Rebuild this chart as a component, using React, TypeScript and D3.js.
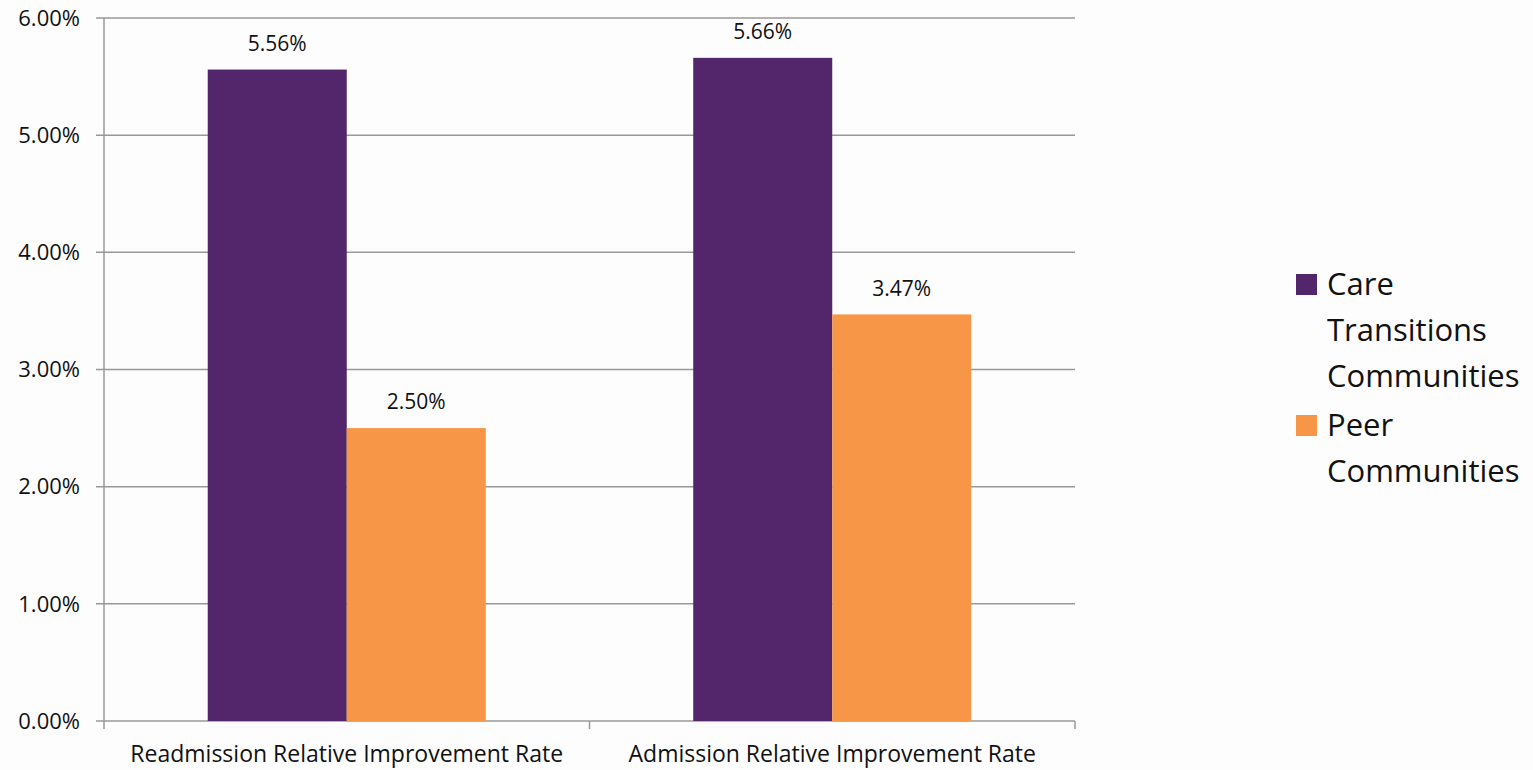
import React from "react";
import * as d3 from "d3";

const categories = ["Readmission Relative Improvement Rate", "Admission Relative Improvement Rate"];
const seriesNames = ["Care Transitions Communities", "Peer Communities"];
const careValues = [5.56, 5.66];
const peerValues = [2.5, 3.47];
const yTicks = [0, 1, 2, 3, 4, 5, 6];
const legendLines = [["Care", "Transitions", "Communities"], ["Peer", "Communities"]];
const colors = ["#53256A", "#F79646"];

const W = 1533;
const H = 770;
const FONT = "'Open Sans', 'Noto Sans', sans-serif";

export default function App() {
  const left = 104;
  const right = 1075;
  const top = 18;
  const bottom = 721;

  const x0 = d3.scaleBand<string>().domain(categories).range([left, right]).padding(0);
  const x1 = d3
    .scaleBand<string>()
    .domain(seriesNames)
    .range([0, x0.bandwidth()])
    .paddingInner(0)
    .paddingOuter(0.746);
  const y = d3.scaleLinear().domain([0, 6]).range([bottom, top]);

  const series = [careValues, peerValues];
  const grid = "#999999";

  return (
    <svg
      width={W}
      height={H}
      style={{ position: "absolute", left: 0, top: 0, background: "#fdfdfd" }}
      fontFamily={FONT}
    >
      {/* horizontal gridlines and y tick marks */}
      {yTicks.map((t) => (
        <g key={t}>
          <line x1={left - 8} x2={right} y1={y(t)} y2={y(t)} stroke={grid} strokeWidth={1.5} />
          <text x={80} y={y(t)} dy="0.35em" textAnchor="end" fontSize={22} fill="#111">
            {t.toFixed(2)}%
          </text>
        </g>
      ))}
      {/* y axis */}
      <line x1={left} x2={left} y1={top} y2={bottom} stroke={grid} strokeWidth={1.5} />
      {/* category boundary ticks */}
      {[left, ...categories.map((c) => (x0(c) as number) + x0.bandwidth())].map((xv, i) => (
        <line key={i} x1={xv} x2={xv} y1={bottom} y2={bottom + 8} stroke={grid} strokeWidth={1.5} />
      ))}
      {/* bars */}
      {categories.map((c, ci) => (
        <g key={c} transform={`translate(${x0(c)},0)`}>
          {seriesNames.map((s, si) => {
            const v = series[si][ci];
            const bx = x1(s) as number;
            return (
              <g key={s}>
                <rect x={bx} y={y(v)} width={x1.bandwidth()} height={bottom - y(v)} fill={colors[si]} />
                <text
                  x={bx + x1.bandwidth() / 2}
                  y={y(v) - 26}
                  dy="0.35em"
                  textAnchor="middle"
                  fontSize={21}
                  fill="#111"
                >
                  {v.toFixed(2)}%
                </text>
              </g>
            );
          })}
          <text
            x={x0.bandwidth() / 2}
            y={754}
            dy="0.35em"
            textAnchor="middle"
            fontSize={23}
            fill="#111"
          >
            {c}
          </text>
        </g>
      ))}
      {/* legend */}
      {legendLines.map((lines, li) => {
        const y0 = li === 0 ? 284 : 425;
        return (
          <g key={li}>
            <rect x={1296} y={y0 - 10} width={21} height={21} fill={colors[li]} />
            {lines.map((ln, k) => (
              <text key={k} x={1327} y={y0 + k * 46} dy="0.35em" fontSize={31} fill="#111">
                {ln}
              </text>
            ))}
          </g>
        );
      })}
    </svg>
  );
}
